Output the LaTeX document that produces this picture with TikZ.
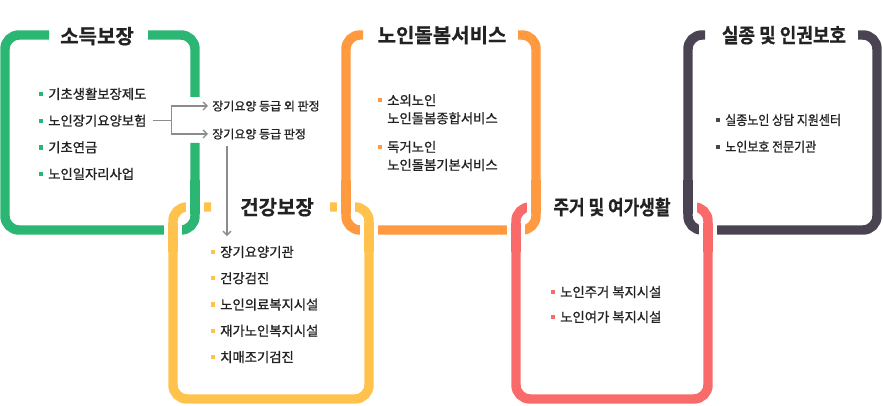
\documentclass[tikz,border=0pt]{standalone}
\usepackage{fontspec}
\setmainfont{Noto Sans CJK KR}
\newfontfamily\itemfont[FakeBold=1.1]{Noto Sans CJK KR}
\newfontfamily\titlefont[FakeBold=0.6]{Noto Sans CJK KR Bold}
\usepackage{tikz}
\usetikzlibrary{arrows.meta,positioning,calc}

\definecolor{cGreen}{HTML}{2BB673}
\definecolor{cYellow}{HTML}{FFC34D}
\definecolor{cOrange}{HTML}{FF9A40}
\definecolor{cPink}{HTML}{F96B6B}
\definecolor{cDark}{HTML}{4A4452}
\definecolor{cText}{HTML}{222222}
\definecolor{cArrow}{HTML}{8C8C8C}
\newcommand{\bul}[1]{\llap{\textcolor{#1}{\rule[2.1pt]{3.2pt}{3.2pt}}\hspace{4pt}}}
\newcommand{\narrow}[2]{\scalebox{#1}[1]{#2}}

\begin{document}
\begin{tikzpicture}[x=0.75pt, y=-0.75pt,
  ring/.style={line width=7.1pt, rounded corners=10.5pt, line cap=butt},
  over/.style={ring, preaction={draw=white, line width=13pt}},
  ttl/.style={font=\fontsize{15pt}{18pt}\titlefont, text=cText, inner sep=0pt, text height=11.4pt, text depth=0pt},
  item/.style={font=\fontsize{10pt}{13.5pt}\itemfont, text=cText, inner sep=0pt, anchor=west, text height=7.5pt, text depth=0pt},
  item2/.style={font=\fontsize{10pt}{13.5pt}\itemfont, text=cText, inner sep=0pt, anchor=north west, align=left},
  lbl/.style={font=\fontsize{9pt}{11pt}\itemfont, text=cText, inner sep=0pt, anchor=west, text height=6.8pt, text depth=0pt},
  conn/.style={draw=cArrow, line width=1pt, shorten >=3pt, -{Straight Barb[length=3pt, width=6pt]}},
  node distance=20pt
]
\useasboundingbox (0,0) rectangle (883,406);

% rings
\draw[ring, cYellow] (211,207) -- (173,207) -- (173,399) -- (369,399) -- (369,207) -- (330,207);
\draw[ring, cPink] (685,207) -- (708,207) -- (708,399) -- (516,399) -- (516,207) -- (538,207);
\draw[ring, cGreen] (148,35) -- (195,35) -- (195,97) (195,143) -- (195,230) -- (5,230) -- (5,35) -- (49,35);
\draw[ring, cOrange] (518,35) -- (536,35) -- (536,230) -- (346,230) -- (346,35) -- (363,35);
\draw[ring, cDark] (858,35) -- (877,35) -- (877,230) -- (688,230) -- (688,35) -- (705,35);

% links
\draw[over, cYellow] (173,223) -- (173,252);
\draw[over, cGreen] (195,180) -- (195,214);
\draw[over, cOrange] (346,180) -- (346,214);
\draw[over, cYellow] (369,223) -- (369,252);
\draw[over, cOrange] (536,180) -- (536,214);
\draw[over, cPink] (516,223) -- (516,252);
\draw[over, cDark] (688,180) -- (688,214);
\draw[over, cPink] (708,223) -- (708,252);

% titles
\node[ttl] (tIncome) at (97,36) {소득보장};
\node[ttl] (tHealth) at (277,207) {건강보장};
\node[ttl] (tCare) at (442,35) {노인돌봄서비스};
\node[ttl] (tLife) at (612,207) {\narrow{0.85}{주거 및 여가생활}};
\node[ttl] (tRights) at (784,35) {\narrow{0.9}{실종 및 인권보호}};

% income
\node[item] (g1) at (48,94) {\bul{cGreen}기초생활보장제도};
\node[item, below=20pt of g1.west, anchor=west] (g2) {\bul{cGreen}노인장기요양보험};
\node[item, below=20pt of g2.west, anchor=west] (g3) {\bul{cGreen}기초연금};
\node[item, below=20pt of g3.west, anchor=west] (g4) {\bul{cGreen}노인일자리사업};

\node[lbl] (gradeOut) at (212,106) {장기요양 등급 외 판정};
\node[lbl, below=21pt of gradeOut.west, anchor=west] (gradeIn) {장기요양 등급 판정};

% health
\node[item] (h1) at (220,252) {\bul{cYellow}장기요양기관};
\node[item, below=19.7pt of h1.west, anchor=west] (h2) {\bul{cYellow}건강검진};
\node[item, below=19.7pt of h2.west, anchor=west] (h3) {\bul{cYellow}노인의료복지시설};
\node[item, below=19.7pt of h3.west, anchor=west] (h4) {\bul{cYellow}재가노인복지시설};
\node[item, below=19.7pt of h4.west, anchor=west] (h5) {\bul{cYellow}치매조기검진};

% care
\node[item2] (c1) at (387,94) {\bul{cOrange}소외노인\\노인돌봄종합서비스};
\node[item2, below=35pt of c1.north west, anchor=north west] (c2) {\bul{cOrange}독거노인\\노인돌봄기본서비스};

% housing and leisure
\node[item] (l1) at (560,292) {\bul{cPink}노인주거 복지시설};
\node[item, below=18.75pt of l1.west, anchor=west] (l2) {\bul{cPink}노인여가 복지시설};

% missing persons and rights
\node[item] (r1) at (725,120) {\bul{cDark}\narrow{0.9}{실종노인 상담 지원센터}};
\node[item, below=20pt of r1.west, anchor=west] (r2) {\bul{cDark}\narrow{0.9}{노인보호 전문기관}};

% connectors
\draw[conn] (g2.east) ++(6,0) -- ++(19,0) coordinate (fork) |- (gradeOut.west);
\draw[conn] (fork) |- (gradeIn.west);
\coordinate (drop) at ($(gradeIn.south west)+(15,7)$);
\draw[conn, shorten >=8pt] (drop) -- (drop |- h1.north);

\end{tikzpicture}
\end{document}
